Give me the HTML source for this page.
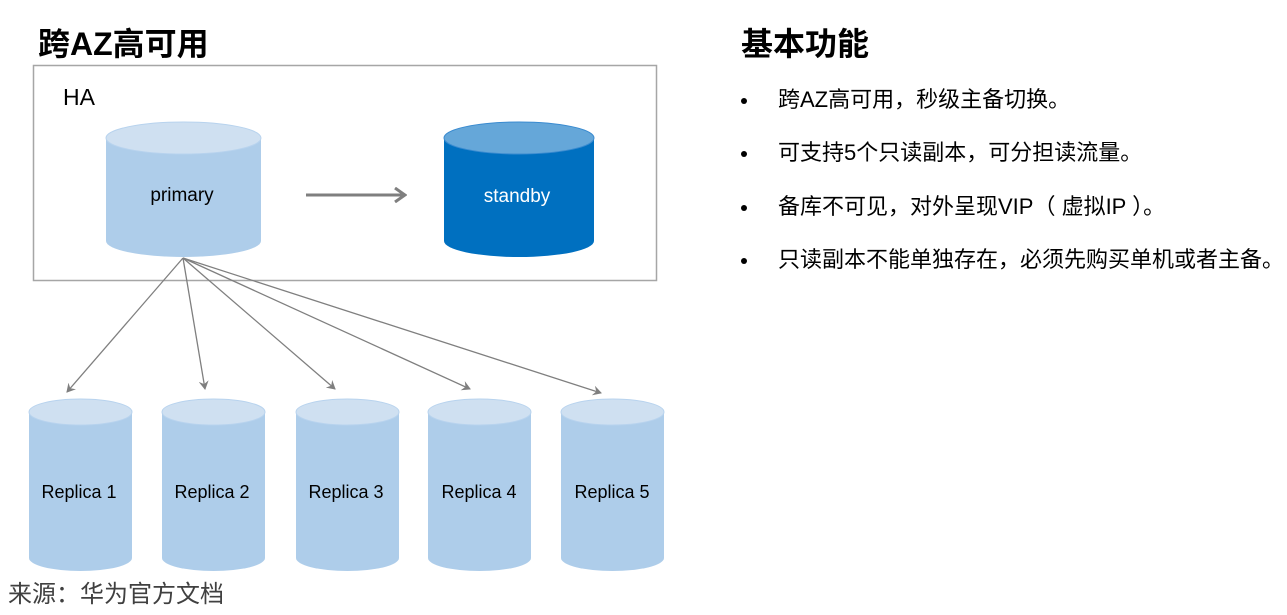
<!DOCTYPE html>
<html><head><meta charset="utf-8"><style>
html,body{margin:0;padding:0;background:#fff;}
body{width:1287px;height:615px;overflow:hidden;position:relative;font-family:"Liberation Sans","Noto Sans CJK SC",sans-serif;}
.t{position:absolute;white-space:nowrap;color:#000;}
.b{font-size:22px;line-height:26px;}
.b i{position:absolute;left:0;top:11px;width:6px;height:6px;border-radius:3px;background:#000;}
.b span{position:absolute;left:37px;}
</style></head><body>
<svg width="1287" height="615" style="position:absolute;left:0;top:0" font-family="Liberation Sans, Noto Sans CJK SC, sans-serif">
<defs><marker id="a" markerWidth="10" markerHeight="10" refX="8" refY="5" orient="auto" markerUnits="userSpaceOnUse"><path d="M0,0 L9,5 L0,10 L3,5 Z" fill="#7f7f7f"/></marker>
<marker id="b" markerWidth="14" markerHeight="16" refX="12" refY="8" orient="auto" markerUnits="userSpaceOnUse"><path d="M2,1 L12,8 L2,15" fill="none" stroke="#7f7f7f" stroke-width="3"/></marker></defs>
<rect x="33.5" y="65.5" width="623" height="215" fill="none" stroke="#a6a6a6" stroke-width="1.5"/>
<text x="63" y="105" font-size="23" fill="#000">HA</text>
<path d="M106,138 V241 A77.5,16 0 0 0 261,241 V138 Z" fill="#aecdea"/>
<ellipse cx="183.5" cy="138" rx="77.5" ry="16" fill="#cfe0f1" stroke="#b8d3ee"/>
<text x="182" y="201" font-size="19" text-anchor="middle" fill="#000">primary</text>
<path d="M444,138 V241 A75,16 0 0 0 594,241 V138 Z" fill="#0070c0"/>
<ellipse cx="519" cy="138" rx="75" ry="16" fill="#65a7d9" stroke="#3a8bd0"/>
<text x="517" y="202" font-size="19" text-anchor="middle" fill="#fff">standby</text>
<line x1="306" y1="195" x2="405" y2="195" stroke="#7f7f7f" stroke-width="3" marker-end="url(#b)"/>
<g stroke="#7f7f7f" stroke-width="1.3" marker-end="url(#a)">
<line x1="183" y1="258" x2="67" y2="392"/>
<line x1="183" y1="258" x2="205" y2="389"/>
<line x1="183" y1="258" x2="335" y2="389"/>
<line x1="183" y1="258" x2="470" y2="389"/>
<line x1="183" y1="258" x2="601" y2="393"/>
</g>
<g font-size="18" text-anchor="middle" fill="#000">
<path d="M29,412 V558 A51.5,13 0 0 0 132,558 V412 Z" fill="#aecdea"/><ellipse cx="80.5" cy="412" rx="51.5" ry="13" fill="#cfe0f1" stroke="#b8d3ee"/><text x="79" y="498">Replica 1</text>
<path d="M162,412 V558 A51.5,13 0 0 0 265,558 V412 Z" fill="#aecdea"/><ellipse cx="213.5" cy="412" rx="51.5" ry="13" fill="#cfe0f1" stroke="#b8d3ee"/><text x="212" y="498">Replica 2</text>
<path d="M296,412 V558 A51.5,13 0 0 0 399,558 V412 Z" fill="#aecdea"/><ellipse cx="347.5" cy="412" rx="51.5" ry="13" fill="#cfe0f1" stroke="#b8d3ee"/><text x="346" y="498">Replica 3</text>
<path d="M428,412 V558 A51.5,13 0 0 0 531,558 V412 Z" fill="#aecdea"/><ellipse cx="479.5" cy="412" rx="51.5" ry="13" fill="#cfe0f1" stroke="#b8d3ee"/><text x="479" y="498">Replica 4</text>
<path d="M561,412 V558 A51.5,13 0 0 0 664,558 V412 Z" fill="#aecdea"/><ellipse cx="612.5" cy="412" rx="51.5" ry="13" fill="#cfe0f1" stroke="#b8d3ee"/><text x="612" y="498">Replica 5</text>
</g>
</svg>
<div class="t" style="left:38px;top:19px;font-size:32px;font-weight:bold;">跨AZ高可用</div>
<div class="t" style="left:8px;top:574px;font-size:24px;color:#404040;">来源：华为官方文档</div>
<div class="t" style="left:741px;top:19px;font-size:32px;font-weight:bold;">基本功能</div>
<div class="t b" style="left:741px;top:87px;"><i></i><span>跨AZ高可用，秒级主备切换。</span></div>
<div class="t b" style="left:741px;top:140px;"><i></i><span>可支持5个只读副本，可分担读流量。</span></div>
<div class="t b" style="left:741px;top:194px;"><i></i><span>备库不可见，对外呈现VIP（ 虚拟IP ）。</span></div>
<div class="t b" style="left:741px;top:247px;"><i></i><span>只读副本不能单独存在，必须先购买单机或者主备。</span></div>
</body></html>
